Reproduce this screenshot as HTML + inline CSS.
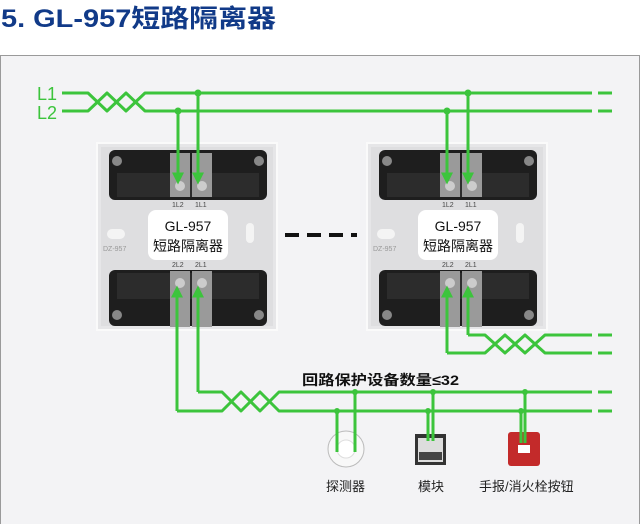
<!DOCTYPE html>
<html><head><meta charset="utf-8"><style>
html,body{margin:0;padding:0;width:640px;height:524px;overflow:hidden;background:#fff}
svg{display:block}
</style></head><body>
<svg width="640" height="524" viewBox="0 0 640 524" xmlns="http://www.w3.org/2000/svg" font-family="Liberation Sans, Noto Sans CJK SC, sans-serif">
<defs>
<marker id="ar" markerWidth="4" markerHeight="4" refX="2.5" refY="2" orient="auto" markerUnits="strokeWidth">
<path d="M0,0 L4,2 L0,4 z" fill="#3cc43c"/></marker>
<g id="mod">
<rect x="0" y="0" width="180" height="187" fill="#e6e6e8" stroke="#fafafa" stroke-width="2"/>
<rect x="4" y="4" width="172" height="179" fill="#dedee0"/>
<rect x="12" y="7" width="158" height="50" rx="6" fill="#1e1e1e"/>
<rect x="20" y="30" width="142" height="24" fill="#2c2c2c"/>
<circle cx="20" cy="18" r="5" fill="#888"/><circle cx="162" cy="18" r="5" fill="#888"/>
<rect x="73" y="10" width="20" height="44" fill="#9a9a9a"/><rect x="95" y="10" width="20" height="44" fill="#9a9a9a"/>
<circle cx="83" cy="43" r="5" fill="#ccc"/><circle cx="105" cy="43" r="5" fill="#ccc"/>
<text x="75" y="64" font-size="7" fill="#444">1L2</text><text x="98" y="64" font-size="7" fill="#444">1L1</text>
<rect x="51" y="67" width="80" height="50" rx="8" fill="#fff"/>
<text x="91" y="88" font-size="14" text-anchor="middle" fill="#111">GL-957</text>
<text x="91" y="108" font-size="14" text-anchor="middle" fill="#111">短路隔离器</text>
<text x="6" y="108" font-size="7" fill="#999">DZ-957</text>
<rect x="10" y="86" width="18" height="10" rx="5" fill="#f4f4f4"/>
<rect x="149" y="80" width="8" height="20" rx="4" fill="#f4f4f4"/>
<text x="75" y="124" font-size="7" fill="#444">2L2</text><text x="98" y="124" font-size="7" fill="#444">2L1</text>
<rect x="12" y="127" width="158" height="56" rx="6" fill="#1e1e1e"/>
<rect x="20" y="130" width="142" height="26" fill="#2c2c2c"/>
<circle cx="20" cy="172" r="5" fill="#888"/><circle cx="162" cy="172" r="5" fill="#888"/>
<rect x="73" y="128" width="20" height="56" fill="#9a9a9a"/><rect x="95" y="128" width="20" height="56" fill="#9a9a9a"/>
<circle cx="83" cy="140" r="5" fill="#ccc"/><circle cx="105" cy="140" r="5" fill="#ccc"/>
</g>
</defs>
<text x="1" y="27" font-size="25" font-weight="bold" fill="#113a88" textLength="275" lengthAdjust="spacingAndGlyphs">5. GL-957短路隔离器</text>
<rect x="0.5" y="55.5" width="639" height="470" fill="#f3f3f5" stroke="#9a9a9a"/>
<use href="#mod" x="97" y="143"/>
<use href="#mod" x="367" y="143"/>
<line x1="285" y1="235" x2="357" y2="235" stroke="#111" stroke-width="4" stroke-dasharray="14,8"/>
<g fill="none" stroke="#3cc43c" stroke-width="3" stroke-linejoin="round">
<polyline points="62,93 88,93 107,111 126,93 145,111 592,111"/>
<polyline points="62,111 88,111 107,93 126,111 145,93 592,93"/>
<line x1="598" y1="93" x2="612" y2="93"/><line x1="598" y1="111" x2="612" y2="111"/>
<line x1="178" y1="111" x2="178" y2="180" marker-end="url(#ar)"/>
<line x1="198" y1="93" x2="198" y2="180" marker-end="url(#ar)"/>
<line x1="447" y1="111" x2="447" y2="180" marker-end="url(#ar)"/>
<line x1="468" y1="93" x2="468" y2="180" marker-end="url(#ar)"/>
<polyline points="177,411 177,290" marker-end="url(#ar)"/>
<polyline points="198,392 198,290" marker-end="url(#ar)"/>
<polyline points="447,353 447,290" marker-end="url(#ar)"/>
<polyline points="468,335 468,290" marker-end="url(#ar)"/>
<polyline points="177,411 222,411 241,392 260,411 279,392 592,392"/>
<polyline points="198,392 222,392 241,411 260,392 279,411 592,411"/>
<polyline points="447,353 485,353 505,335 525,353 545,335 592,335"/>
<polyline points="468,335 485,335 505,353 525,335 545,353 592,353"/>
<line x1="598" y1="392" x2="612" y2="392"/><line x1="598" y1="411" x2="612" y2="411"/>
<line x1="598" y1="335" x2="612" y2="335"/><line x1="598" y1="353" x2="612" y2="353"/>
</g>
<g fill="#3cc43c"><circle cx="178" cy="111" r="3.5"/><circle cx="198" cy="93" r="3.5"/><circle cx="447" cy="111" r="3.5"/><circle cx="468" cy="93" r="3.5"/>
<circle cx="337" cy="411" r="3"/><circle cx="355" cy="392" r="3"/><circle cx="428" cy="411" r="3"/><circle cx="433" cy="392" r="3"/><circle cx="521" cy="411" r="3"/><circle cx="525" cy="392" r="3"/></g>
<text x="302" y="385" font-size="14" font-weight="bold" fill="#111" textLength="157" lengthAdjust="spacingAndGlyphs">回路保护设备数量≤32</text>
<circle cx="346" cy="449" r="18" fill="#f8f8f8" stroke="#bbb"/>
<circle cx="346" cy="449" r="9" fill="#fff" stroke="#ddd"/>
<rect x="415" y="434" width="31" height="31" fill="#333"/><rect x="418" y="438" width="25" height="24" fill="#ddd"/>
<rect x="419" y="452" width="23" height="8" fill="#444"/>
<rect x="508" y="432" width="32" height="34" rx="3" fill="#c32a2a"/>
<rect x="518" y="445" width="12" height="8" fill="#fff"/>
<g stroke="#3cc43c" stroke-width="3"><line x1="337" y1="411" x2="337" y2="452"/><line x1="355" y1="392" x2="355" y2="452"/>
<line x1="428" y1="411" x2="428" y2="441"/><line x1="433" y1="392" x2="433" y2="441"/>
<line x1="521" y1="411" x2="521" y2="443"/><line x1="525" y1="392" x2="525" y2="443"/></g>
<text x="326" y="491" font-size="13" fill="#222">探测器</text>
<text x="418" y="491" font-size="13" fill="#222">模块</text>
<text x="479" y="491" font-size="13" fill="#222">手报/消火栓按钮</text>
<text x="37" y="100" font-size="18" fill="#3cc43c">L1</text>
<text x="37" y="119" font-size="18" fill="#3cc43c">L2</text>
</svg>
</body></html>
